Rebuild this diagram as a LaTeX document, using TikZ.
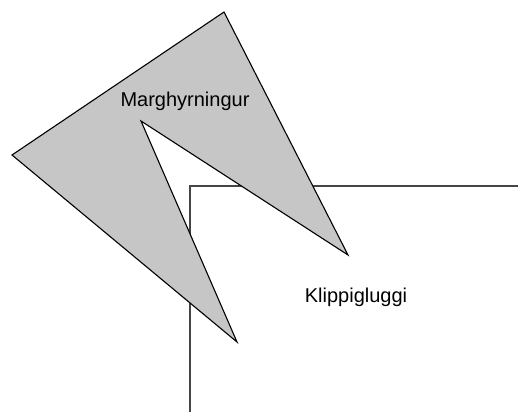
\documentclass[tikz,border=0pt]{standalone}
\usepackage{fontspec}
\setmainfont{Liberation Sans}
\definecolor{polyfill}{RGB}{198,198,198}
\definecolor{winline}{RGB}{70,70,70}
\begin{document}
\begin{tikzpicture}[x=0.5pt,y=-0.5pt,
  window/.style={draw=winline,line width=0.6pt},
  poly/.style={draw=black,fill=polyfill,line width=0.55pt,line join=miter},
  lbl/.style={font=\fontsize{10}{12}\selectfont,inner sep=0pt}]
\useasboundingbox (0,0) rectangle (518,412);
\coordinate (wb) at (190,412);
\coordinate (wc) at (190,186);
\coordinate (wr) at (518,186);
\draw[window] (wb) -- (wc) -- (wr);
\coordinate (pt) at (224,12);
\coordinate (pr) at (348,255);
\coordinate (pi) at (141,121);
\coordinate (pb) at (237,342);
\coordinate (pl) at (12,155);
\draw[poly] (pt) -- (pr) -- (pi) -- (pb) -- (pl) -- cycle;
\node[lbl] (m) at (185,101) {Marghyrningur};
\node[lbl] (k) at (356,297) {Klippigluggi};
\end{tikzpicture}
\end{document}
